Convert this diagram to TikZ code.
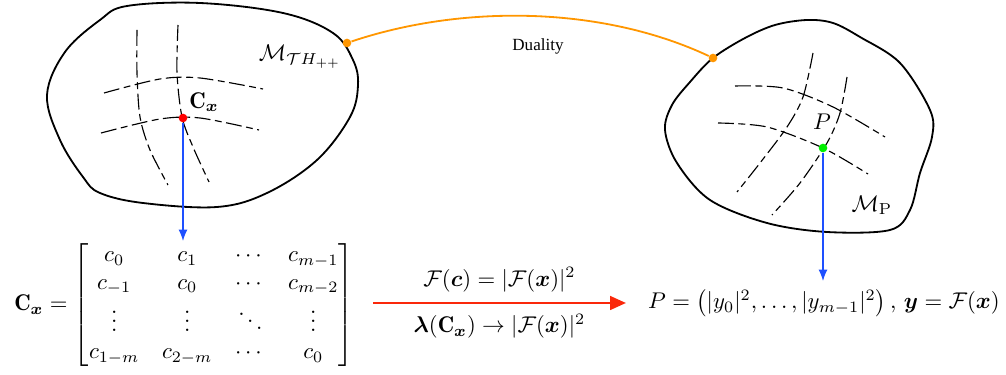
\documentclass[tikz,border=0pt]{standalone}
\usepackage{amsmath}
\usepackage{bm}
\usepackage{fontspec}
\newfontfamily\dualfont{Liberation Serif}
\usetikzlibrary{arrows.meta}
\definecolor{dualorange}{RGB}{255,150,0}
\definecolor{mapblue}{RGB}{30,80,255}
\definecolor{maparrowred}{RGB}{250,40,10}
\definecolor{pgreen}{RGB}{0,240,0}

\begin{document}
\begin{tikzpicture}[x=0.44pt, y=-0.44pt,
		blob/.style={thick, line cap=round},
		grid line/.style={line width=0.5pt, dash pattern=on 7pt off 2pt on 3pt off 2pt},
		dot/.style={circle, inner sep=0pt, minimum size=3.8pt},
		map arrow/.style={mapblue, semithick, -{Latex[length=5pt, width=4pt]}},
	]
		\useasboundingbox (0,0) rectangle (1006,375);

		% Manifold of Toeplitz matrices
		\draw[blob] plot[smooth cycle, tension=0.6] coordinates {
			(47,95) (65,52) (100,20) (127,6) (200,3) (283,13) (333,33) (353,60)
			(358,85) (350,117) (317,160) (267,193) (217,207) (143,203) (100,193)
			(83,177) (60,140)};
		\node at (300,57) {$\mathcal{M}_{\mathcal{T}H_{++}}$};

		% Grid lines (left)
		\draw[grid line] plot[smooth] coordinates {(137,30) (137,73) (140,117) (150,150) (168,185)};
		\draw[grid line] plot[smooth] coordinates {(178,25) (177,73) (182,117) (193,147) (209,182)};
		\draw[grid line] plot[smooth] coordinates {(104,93) (160,79) (200,78) (263,89)};
		\draw[grid line] plot[smooth] coordinates {(101,133) (160,119) (200,118) (259,130)};

		% Manifold of probability vectors
		\draw[blob] plot[smooth cycle, tension=0.55] coordinates {
			(713,58) (745,38) (775,25) (807,20) (833,23) (860,37) (900,63)
			(930,110) (932,137) (920,173) (910,210) (890,230) (827,232)
			(767,223) (710,200) (677,163) (665,130) (672,105) (690,82)};
		\node at (872,205) {$\mathcal{M}_{\mathrm{P}}$};

		% Grid lines (right)
		\draw[grid line] plot[smooth] coordinates {(735,86) (783,88) (833,107) (885,137)};
		\draw[grid line] plot[smooth] coordinates {(718,123) (767,127) (823,148) (868,174)};
		\draw[grid line] plot[smooth] coordinates {(813,53) (803,97) (787,127) (760,163) (737,192)};
		\draw[grid line] plot[smooth] coordinates {(847,77) (840,113) (827,143) (800,183) (772,215)};

		% Points
		\node[dot, fill=red] (cx) at (183,118) {};
		\node at (204,102) {$\mathbf{C}_{\bm{x}}$};
		\node[dot, fill=pgreen] (pdot) at (823,148) {};
		\node at (822,122) {$P$};

		% Duality
		\node[dot, fill=dualorange] (dleft) at (347,43) {};
		\node[dot, fill=dualorange] (dright) at (713,58) {};
		\draw[dualorange, line width=0.8pt] (dleft) .. controls (460,5) and (600,5) .. (dright);
		\node at (538,46) {\dualfont\fontsize{7.5}{9}\selectfont Duality};

		% Matrix and probability vector
		\node (cmat) at (184,305) {$\mathbf{C}_{\bm{x}} = \begin{bmatrix}
				c_0 & c_1 & \cdots & c_{m-1}\\
				c_{-1} & c_0 & \cdots & c_{m-2}\\
				\vdots & \vdots & \ddots & \vdots\\
				c_{1-m} & c_{2-m} & \cdots & c_0
			\end{bmatrix}$};
		\node (pvec) at (824,303) {$P = \bigl(|y_0|^2, \ldots, |y_{m-1}|^2\bigr)\,,\, \bm{y} = \mathcal{F}(\bm{x})$};

		% Projections
		\coordinate (cxend) at (183,241);
		\coordinate (pend) at (823,281);
		\draw[map arrow] (cx) -- (cxend);
		\draw[map arrow] (pdot) -- (pend);

		% Red arrow
		\coordinate (rstart) at (373,303);
		\coordinate (rend) at (626,303);
		\draw[maparrowred, line width=1.1pt, -{Triangle[length=7pt, width=6pt]}] (rstart) -- (rend)
			node[midway, above=1pt, black] {$\mathcal{F}(\bm{c}) = |\mathcal{F}(\bm{x})|^2$}
			node[midway, below=1pt, black] {$\bm{\lambda}(\mathbf{C}_{\bm{x}}) \to |\mathcal{F}(\bm{x})|^2$};
	\end{tikzpicture}
\end{document}
